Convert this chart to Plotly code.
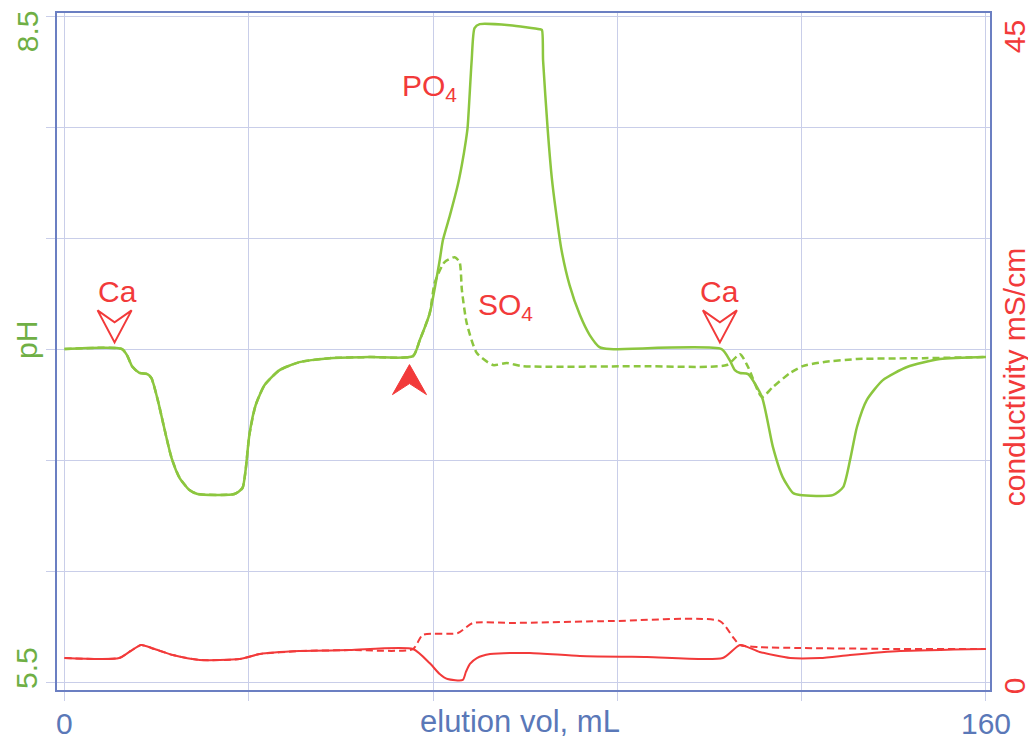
import plotly.graph_objects as go

# ---- data ----
ph_solid_x = [0, 10.0, 10.9, 11.8, 13.0, 14.4, 15.1, 16.2, 17.4, 18.6, 20.0, 21.7, 23.1, 29.5, 30.9, 31.45,
              32.1, 33.2, 34.75, 37.35, 40.8, 46.0, 53.0, 60.5, 61.7, 63.4, 65.15, 65.7, 66.9, 68.3, 69.0,
              69.7, 70.0, 70.7, 71.2, 72.1, 77.3, 82.5, 82.9, 83.1, 83.9, 84.6, 85.3, 86.3, 87.7, 89.5,
              91.2, 92.9, 94.7, 114.1, 115.5, 116.4, 117.3, 118.7, 121.1, 123.0, 124.7, 126.5, 127.7,
              133.4, 135.2, 136.4, 137.6, 139.3, 142.1, 146.3, 152.0, 160]
ph_solid_y = [7.0, 7.0, 6.97, 6.92, 6.893, 6.887, 6.869, 6.77, 6.635, 6.509, 6.419, 6.365, 6.347, 6.347,
              6.374, 6.455, 6.613, 6.748, 6.838, 6.905, 6.941, 6.959, 6.964, 6.968, 7.041, 7.16, 7.40,
              7.49, 7.60, 7.74, 7.83, 7.94, 8.0, 8.30, 8.446, 8.464, 8.459, 8.441, 8.437, 8.30, 7.99,
              7.775, 7.626, 7.446, 7.288, 7.153, 7.063, 7.009, 7.0, 7.0, 6.95, 6.905, 6.892, 6.887,
              6.784, 6.559, 6.423, 6.351, 6.342, 6.342, 6.378, 6.50, 6.649, 6.77, 6.86, 6.919, 6.955, 6.964]

ph_dash_x = [0, 10.0, 10.9, 11.8, 13.0, 14.4, 15.1, 16.2, 17.4, 18.6, 20.0, 21.7, 23.1, 29.5, 30.9, 31.45,
             32.1, 33.2, 34.75, 37.35, 40.8, 46.0, 53.0, 60.5, 61.7, 63.4, 64.3, 66.0, 67.76, 68.6, 69.0,
             69.84, 71.6, 74.4, 76.8, 79.6, 100.0, 115.0, 117.3, 118.7, 121.1, 123.0, 126.0, 128.2,
             131.7, 137.6, 149.1, 160]
ph_dash_y = [7.0, 7.0, 6.97, 6.92, 6.893, 6.887, 6.869, 6.77, 6.635, 6.509, 6.419, 6.365, 6.347, 6.347,
             6.374, 6.455, 6.613, 6.748, 6.838, 6.905, 6.941, 6.959, 6.964, 6.968, 7.041, 7.16, 7.30,
             7.392, 7.414, 7.392, 7.266, 7.117, 6.982, 6.928, 6.937, 6.923, 6.923, 6.928, 6.977, 6.919,
             6.784, 6.829, 6.892, 6.923, 6.941, 6.955, 6.959, 6.964]

cond_solid_x = [0, 9.5, 11.5, 13.3, 15.5, 18.8, 23.5, 30.4, 33.9, 40.8, 49.5, 60.5, 63.4, 65.15, 66.5,
                69.15, 69.7, 70.4, 71.6, 73.9, 80.8, 89.5, 101.1, 114.3, 117.3, 120.7, 126.0, 131.2,
                136.4, 145.1, 160]
cond_solid_y = [1.62, 1.62, 2.1, 2.50, 2.25, 1.82, 1.49, 1.55, 1.89, 2.09, 2.16, 2.23, 1.28, 0.54, 0.2,
                0.14, 0.68, 1.22, 1.62, 1.89, 1.96, 1.76, 1.69, 1.62, 2.50, 2.03, 1.62, 1.62,
                1.82, 2.09, 2.23]

cond_dash_x = [0, 9.5, 11.5, 13.3, 15.5, 18.8, 23.5, 30.4, 33.9, 40.8, 49.5, 60.5, 62.2, 68.3, 70.9,
               77.8, 95.2, 113.8, 116.05, 117.3, 120.7, 127.7, 145.1, 160]
cond_dash_y = [1.62, 1.62, 2.1, 2.50, 2.25, 1.82, 1.49, 1.55, 1.89, 2.09, 2.16, 2.23, 3.18, 3.31, 3.99,
               3.99, 4.12, 4.12, 3.04, 2.50, 2.36, 2.30, 2.23, 2.23]

x_ticks = [0, 32, 64, 96, 128, 160]
x_label_vals = [0, 160]
x_label_text = ["0", "160"]
ph_ticks = [5.5, 6.0, 6.5, 7.0, 7.5, 8.0, 8.5]

# event markers (data coordinates of the arrow tips)
ca_marker_x = [8.7, 113.8]
ca_marker_ph = [7.03, 7.03]
inject_x = 59.9
inject_ph = 6.93

GREEN = "#8cc63f"
GREEN_TXT = "#6faf45"
RED = "#f23a3a"
BLUE = "#6b7fc2"
BLUE_TXT = "#5a78b8"
GRID = "#c9cee9"
FONT = "Liberation Sans, Arial, sans-serif"
FS = 30

fig = go.Figure()
fig.add_trace(go.Scatter(x=ph_dash_x, y=ph_dash_y, mode="lines",
                         line=dict(color=GREEN, width=2.5, dash="7px,4px", shape="spline", smoothing=0.6),
                         yaxis="y"))
fig.add_trace(go.Scatter(x=ph_solid_x, y=ph_solid_y, mode="lines",
                         line=dict(color=GREEN, width=2.5, shape="spline", smoothing=0.6), yaxis="y"))
fig.add_trace(go.Scatter(x=cond_dash_x, y=cond_dash_y, mode="lines",
                         line=dict(color=RED, width=2, dash="7px,4px", shape="spline", smoothing=0.6),
                         yaxis="y2"))
fig.add_trace(go.Scatter(x=cond_solid_x, y=cond_solid_y, mode="lines",
                         line=dict(color=RED, width=2, shape="spline", smoothing=0.6), yaxis="y2"))

ph_lo, ph_hi = 5.464, 8.514
fig.update_layout(
    width=1028, height=738,
    margin=dict(l=57, r=38, t=13, b=48, autoexpand=False),
    paper_bgcolor="white", plot_bgcolor="white",
    showlegend=False,
    font=dict(family=FONT, size=FS),
    xaxis=dict(range=[-1.3, 160.7], tickvals=x_ticks, showticklabels=False, automargin=False,
               showgrid=True, gridcolor=GRID, gridwidth=1.3, zeroline=False,
               showline=True, linecolor=BLUE, linewidth=2.2, mirror=True,
               ticks="outside", ticklen=9, tickcolor=GRID, tickwidth=1.3),
    yaxis=dict(range=[ph_lo, ph_hi], tickvals=ph_ticks, showticklabels=False, automargin=False,
               showgrid=True, gridcolor=GRID, gridwidth=1.3, zeroline=False,
               showline=True, linecolor=BLUE, linewidth=2.2, mirror=True,
               ticks="outside", ticklen=9, tickcolor=GRID, tickwidth=1.3),
    yaxis2=dict(range=[(ph_lo - 5.5) * 15, (ph_hi - 5.5) * 15], overlaying="y", side="right",
                automargin=False, showgrid=False, zeroline=False, showticklabels=False, ticks=""),
)

def ann(text, x, y, color, angle=0, xref="paper", yref="paper", xanchor="center", yanchor="middle", size=FS):
    fig.add_annotation(text=text, x=x, y=y, xref=xref, yref=yref, showarrow=False,
                       textangle=angle, xanchor=xanchor, yanchor=yanchor, borderpad=0,
                       font=dict(color=color, size=size, family=FONT))

# x tick labels
for v, t in zip(x_label_vals, x_label_text):
    ann(t, v, -0.05, BLUE_TXT, xref="x")

# axis labels
ann("8.5", -0.0322, 0.973, GREEN_TXT, -90)
ann("5.5", -0.0322, 0.0325, GREEN_TXT, -90)
ann("pH", -0.0322, 0.517, GREEN_TXT, -90)
ann("45", 1.0260, 0.9645, RED, -90)
ann("0", 1.0260, 0.0059, RED, -90)
ann("conductivity mS/cm", 1.0260, 0.4623, RED, -90)
ann("elution vol, mL", 0.496, -0.047, BLUE_TXT, size=31)

# peak labels
ann("Ca", 9.2, 7.261, RED, xref="x", yref="y")
ann("Ca", 113.8, 7.261, RED, xref="x", yref="y")
ann("PO<sub>4</sub>", 58.5, 8.18, RED, xref="x", yref="y", xanchor="left")
ann("SO<sub>4</sub>", 71.6, 7.19, RED, xref="x", yref="y", xanchor="left")

# event arrows (pixel-sized shapes anchored at data points)
for mx, my in zip(ca_marker_x, ca_marker_ph):
    fig.add_shape(type="path", xref="x", yref="y", xsizemode="pixel", ysizemode="pixel",
                  xanchor=mx, yanchor=my, path="M0,0 L17,32 L0,20 L-17,32 Z",
                  line=dict(color=RED, width=2), fillcolor="white")
fig.add_shape(type="path", xref="x", yref="y", xsizemode="pixel", ysizemode="pixel",
              xanchor=inject_x, yanchor=inject_ph, path="M0,0 L17,-30 L0,-19 L-17,-30 Z",
              line=dict(color=RED, width=1), fillcolor=RED)

fig.write_html("out.html", config={"displayModeBar": False},
               post_script="document.body.style.margin='0px';")
